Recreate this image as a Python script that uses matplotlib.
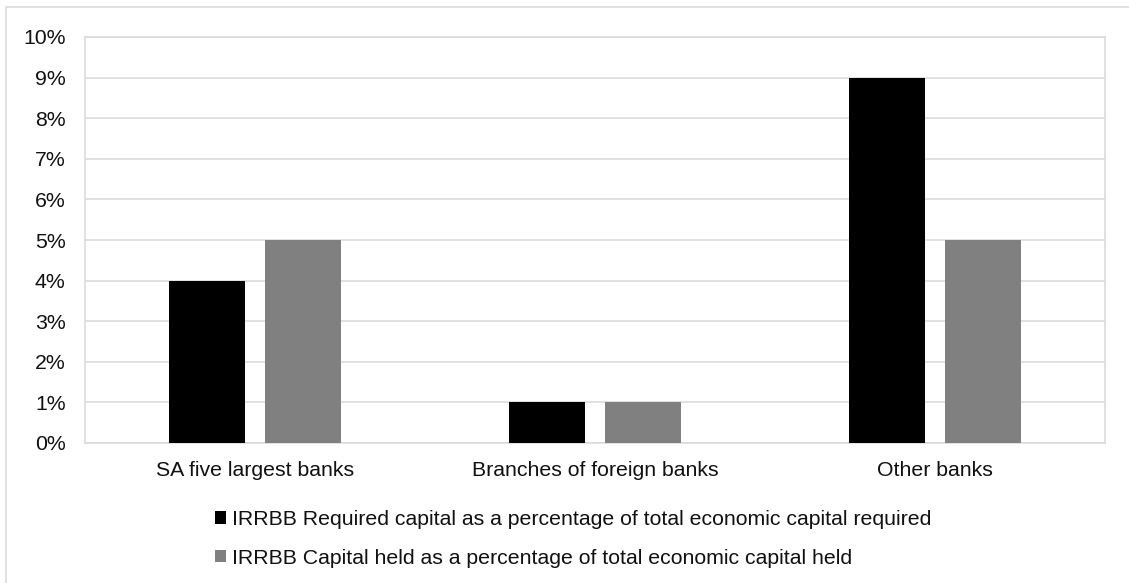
import matplotlib
matplotlib.use("Agg")
import matplotlib.pyplot as plt
from matplotlib.patches import Rectangle, Patch
from matplotlib.ticker import FuncFormatter, MultipleLocator
import numpy as np

plt.rcParams["font.family"] = ["Liberation Sans", "DejaVu Sans"]

categories = ["SA five largest banks", "Branches of foreign banks", "Other banks"]
required_capital = [4, 1, 9]
capital_held = [5, 1, 5]
series_labels = [
    "IRRBB Required capital as a percentage of total economic capital required",
    "IRRBB Capital held as a percentage of total economic capital held",
]
colors = ["#000000", "#808080"]

W, H = 1129, 583
fig = plt.figure(figsize=(W / 100, H / 100), dpi=100)

# light frame around the whole chart area
fig.patches.append(Rectangle((6 / W, -0.1), 1.2, 1 - 7 / H + 0.1,
                             transform=fig.transFigure, fill=False,
                             edgecolor="#d9d9d9", linewidth=1.1, zorder=0))

ax = fig.add_axes([85 / W, 1 - 443 / H, (1105 - 85) / W, (443 - 37) / H])

x = np.arange(len(categories))
bw = 0.2235
off = 0.1412
ax.bar(x - off, required_capital, width=bw, color=colors[0], zorder=3,
       label=series_labels[0])
ax.bar(x + off, capital_held, width=bw, color=colors[1], zorder=3,
       label=series_labels[1])

ax.set_xlim(-0.5, len(categories) - 0.5)
ax.set_ylim(0, 10)
ax.yaxis.set_major_locator(MultipleLocator(1))
ax.yaxis.set_major_formatter(FuncFormatter(lambda v, p: f"{int(round(v))}%"))
ax.set_xticks(x)
ax.set_xticklabels(categories)

text_color = "#111111"
fs = 15.3
ax.tick_params(axis="both", length=0, labelsize=fs, colors=text_color)
ax.tick_params(axis="y", pad=14)
ax.tick_params(axis="x", pad=13)

ax.grid(axis="y", color="#d9d9d9", linewidth=1.1, zorder=0)
for s in ax.spines.values():
    s.set_color("#d9d9d9")
    s.set_linewidth(1.1)

handles = [Patch(facecolor=c, edgecolor="none") for c in colors]
leg = fig.legend(handles, series_labels, loc="center left",
                 bbox_to_anchor=(215 / W, 1 - 539 / H), frameon=False,
                 fontsize=fs, handlelength=0.52, handleheight=0.52,
                 handletextpad=0.3, labelspacing=0.92, borderpad=0,
                 borderaxespad=0)
for t in leg.get_texts():
    t.set_color(text_color)

fig.savefig("out.png", dpi=100)
